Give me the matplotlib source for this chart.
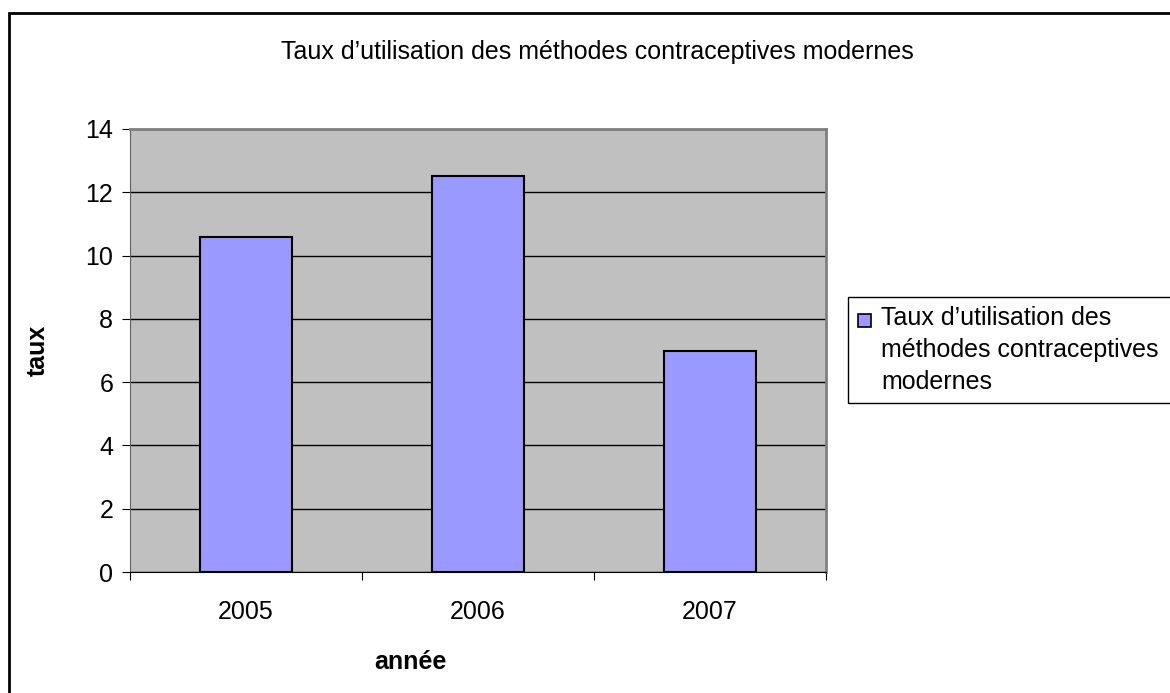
import matplotlib.pyplot as plt
from matplotlib.patches import Rectangle

# Data
annees = ["2005", "2006", "2007"]
taux = [10.6, 12.5, 6.97]
serie_lignes = ["Taux d\u2019utilisation des", "méthodes contraceptives", "modernes"]
titre = "Taux d\u2019utilisation des méthodes contraceptives modernes"

W, H = 1170, 693
fig = plt.figure(figsize=(W / 100, H / 100), dpi=100)
plt.rcParams['font.family'] = ['Liberation Sans', 'DejaVu Sans']
FS = 18


def px(x, y):
    # pixel position -> figure fraction
    return x / W, 1 - y / H


# outer chart border (cut off on right/bottom like the original)
fig.patches.append(Rectangle(px(9, 720), 1.2, (720 - 13) / H,
                             transform=fig.transFigure, fill=False,
                             edgecolor='black', linewidth=2))

# plot area: left 130, right 826, top 129, bottom 572
ax = fig.add_axes([130 / W, 1 - 572 / H, (826 - 130) / W, (572 - 129) / H])
ax.set_facecolor('#C0C0C0')

x = range(len(annees))
bars = ax.bar(x, taux, width=0.4, color='#9999FF', edgecolor='black',
              linewidth=1.5, zorder=3)

ax.set_xlim(-0.5, 2.5)
ax.set_ylim(0, 14)
ax.set_yticks(range(0, 15, 2))
ax.yaxis.grid(True, color='black', linewidth=1, zorder=1)
ax.set_axisbelow(True)

ax.set_xticks([-0.5, 0.5, 1.5, 2.5])
ax.set_xticklabels([])
ax.set_xticks(list(x), minor=True)
ax.set_xticklabels(annees, minor=True)
ax.tick_params(axis='x', which='major', direction='out', length=6, color='black')
ax.tick_params(axis='x', which='minor', length=0, pad=20, labelsize=FS)
ax.tick_params(axis='y', direction='out', length=6, labelsize=FS, pad=6)

for s in ['top', 'right']:
    ax.spines[s].set_color('#808080')
    ax.spines[s].set_linewidth(2)
ax.spines['left'].set_color('#606060')
ax.spines['bottom'].set_color('black')

fig.text(*px(38, 350), 'taux', rotation=90, ha='center', va='center',
         fontsize=FS, fontweight='bold')
fig.text(*px(410, 662), 'année', ha='center', va='center',
         fontsize=FS, fontweight='bold')
fig.text(*px(597, 52), titre, ha='center', va='center', fontsize=FS)

# legend box drawn by hand (marker sits on the first line, like Excel)
fig.patches.append(Rectangle(px(848, 403), 1.0, (403 - 297) / H,
                             transform=fig.transFigure, fill=False,
                             edgecolor='black', linewidth=1))
fig.patches.append(Rectangle(px(858, 327), 13 / W, 13 / H,
                             transform=fig.transFigure, facecolor='#9999FF',
                             edgecolor='black', linewidth=1.2))
for i, ligne in enumerate(serie_lignes):
    fig.text(*px(881, 318 + 32 * i), ligne, ha='left', va='center', fontsize=FS)

fig.savefig('out.png', dpi=100)
